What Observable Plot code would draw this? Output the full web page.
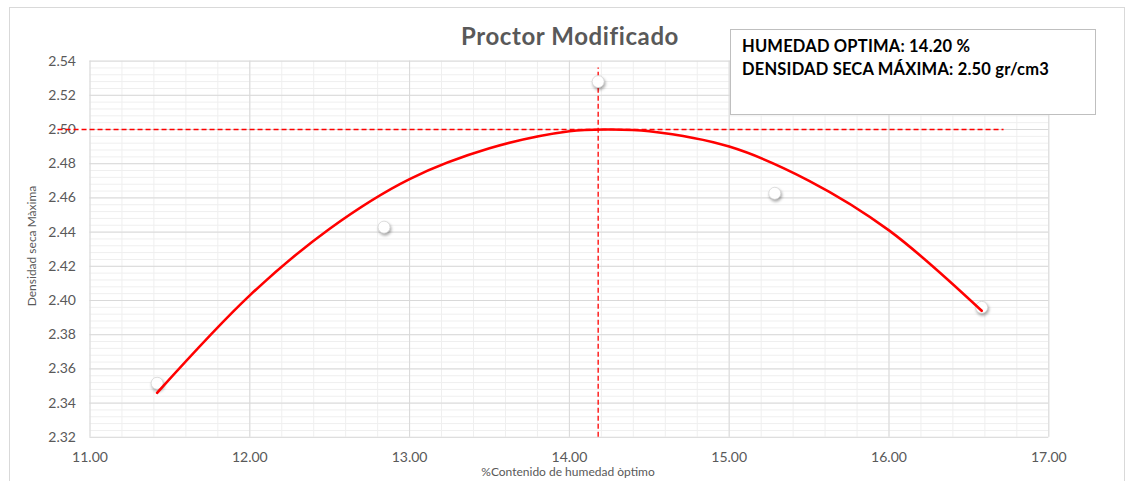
<!DOCTYPE html>
<html><head><meta charset="utf-8">
<script src="https://cdn.jsdelivr.net/npm/d3@7"></script>
<script src="https://cdn.jsdelivr.net/npm/@observablehq/plot@0.6"></script>
<style>
html,body{margin:0;padding:0;background:#fff;}
#wrap{position:relative;width:1130px;height:481px;overflow:hidden;font-family:Lato,"Open Sans",sans-serif;}
#frame{position:absolute;left:9px;top:7px;width:1116px;height:520px;border:1px solid #d9d9d9;box-sizing:border-box;}
#chart{position:absolute;left:0;top:0;}
#title{position:absolute;left:0;width:1140px;top:23.8px;line-height:1;text-align:center;font-weight:bold;font-size:24px;letter-spacing:0.6px;color:#595959;white-space:nowrap;}
#box{position:absolute;left:730px;top:29px;width:366px;height:86px;box-sizing:border-box;border:1px solid #bfbfbf;background:#fff;padding:5.3px 0 0 11px;font-weight:bold;font-size:16.5px;letter-spacing:0.2px;line-height:22.7px;color:#000;white-space:nowrap;}
#ylab{position:absolute;left:31.7px;top:246px;transform:translate(-50%,-50%) rotate(-90deg);font-size:12px;color:#595959;white-space:nowrap;line-height:1;}
#xlab{position:absolute;left:0;width:1136px;top:465.5px;text-align:center;font-size:12px;color:#595959;white-space:nowrap;line-height:1;}
</style>
</head><body>
<div id="wrap">
  <div id="frame"></div>
  <div id="chart"></div>
  <div id="title"></div>
  <div id="box"></div>
  <div id="ylab"></div>
  <div id="xlab"></div>
</div>
<script>
// ---- data ----
const titleText = "Proctor Modificado";
const boxLines = ["HUMEDAD OPTIMA: 14.20 %", "DENSIDAD SECA MÁXIMA: 2.50 gr/cm3"];
const xLabel = "%Contenido de humedad òptimo";
const yLabel = "Densidad seca Màxima";

const xTicks = [11, 12, 13, 14, 15, 16, 17];
const yTicks = [2.32, 2.34, 2.36, 2.38, 2.40, 2.42, 2.44, 2.46, 2.48, 2.50, 2.52, 2.54];

// measured points
const humedad = [11.42, 12.84, 14.18, 15.285, 16.58];
const densidad = [2.3516, 2.4429, 2.528, 2.4627, 2.396];

// fitted curve
const curveX = [11.42, 12.0, 12.5, 13.0, 13.5, 14.0, 14.25, 14.5, 15.0, 15.5, 16.0, 16.58];
const curveY = [2.346, 2.403, 2.442, 2.471, 2.489, 2.499, 2.500, 2.499, 2.490, 2.470, 2.441, 2.394];

// optimum reference lines
const optHumedad = 14.18;
const optDensidad = 2.50;
const hLineX = [10.8, 16.72];
const vLineY = [2.32, 2.536];

// ---- build ----
const points = humedad.map((x, i) => ({x, y: densidad[i]}));
const curve = curveX.map((x, i) => ({x, y: curveY[i]}));
const hLine = [{y: optDensidad, x1: hLineX[0], x2: hLineX[1]}];
const vLine = [{x: optHumedad, y1: vLineY[0], y2: vLineY[1]}];

const xMinor = d3.range(0, 31).map(i => 11 + i * 0.2);
const yMinor = d3.range(0, 56).map(i => 2.32 + i * 0.004);

const plot = Plot.plot({
  width: 1130,
  height: 481,
  marginTop: 60.6,
  marginBottom: 44.2,
  marginLeft: 89.5,
  marginRight: 81.7,
  style: {fontFamily: "Lato, 'Open Sans', sans-serif", fontSize: "14px", color: "#595959", background: "transparent"},
  x: {domain: [11, 17]},
  y: {domain: [2.32, 2.54]},
  marks: [
    Plot.ruleX(xMinor, {stroke: "#efefef", strokeWidth: 1}),
    Plot.ruleY(yMinor, {stroke: "#efefef", strokeWidth: 1}),
    Plot.ruleX(xTicks, {stroke: "#d9d9d9", strokeWidth: 1}),
    Plot.ruleY(yTicks, {stroke: "#d9d9d9", strokeWidth: 1}),
    Plot.axisX({ticks: xTicks, tickFormat: d => d.toFixed(2), tickSize: 0, tickPadding: 15, label: null, fill: "#595959"}),
    Plot.axisY({ticks: yTicks, tickFormat: d => d.toFixed(2), tickSize: 0, tickPadding: 14, label: null, fill: "#595959"}),
    Plot.ruleY(hLine, {y: "y", x1: "x1", x2: "x2", stroke: "#ff0000", strokeOpacity: 1, strokeWidth: 1.3, strokeDasharray: "5,3"}),
    Plot.ruleX(vLine, {x: "x", y1: "y1", y2: "y2", stroke: "#ff0000", strokeOpacity: 1, strokeWidth: 1.3, strokeDasharray: "5,3"}),
    Plot.dot(points, {x: "x", y: "y", r: 6, fill: "#ffffff", stroke: "#d6d6d6", strokeWidth: 0.8}),
    Plot.line(curve, {x: "x", y: "y", curve: "catmull-rom", stroke: "#ff0000", strokeWidth: 2.6})
  ]
});
document.getElementById("chart").appendChild(plot);
plot.querySelectorAll('g[aria-label="dot"]').forEach(g => g.style.filter = "drop-shadow(1px 2px 1.5px rgba(0,0,0,0.35))");

document.getElementById("title").textContent = titleText;
document.getElementById("box").innerHTML = boxLines.map(s => `<div>${s}</div>`).join("");
document.getElementById("xlab").textContent = xLabel;
document.getElementById("ylab").textContent = yLabel;
</script>
</body></html>
